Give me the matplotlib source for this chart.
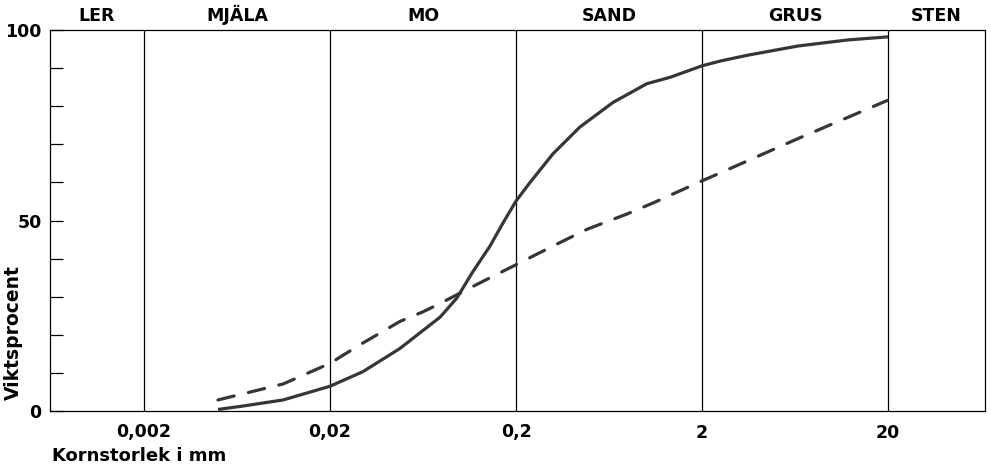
import numpy as np
import matplotlib
matplotlib.use("Agg")
import matplotlib.pyplot as plt

plt.rcParams['font.family'] = ['DejaVu Sans']

# kornstorlek (mm) och viktsprocent
solid_mm = [0.005, 0.0068, 0.0112, 0.02, 0.030, 0.0475, 0.078, 0.096, 0.117,
            0.145, 0.170, 0.2, 0.238, 0.316, 0.44, 0.665, 1.01, 1.35, 2.0,
            2.53, 3.53, 6.56, 12.2, 20.0]
solid_pct = [0.4, 1.3, 2.9, 6.5, 10.3, 16.4, 24.6, 29.6, 36.5, 43.3, 49.3,
             55.1, 60.0, 67.5, 74.5, 81.0, 85.9, 87.6, 90.6, 91.9, 93.4,
             95.8, 97.4, 98.2]

dashed_mm = [0.005, 0.0112, 0.02, 0.029, 0.0475, 0.063, 0.078, 0.113, 0.2,
             0.316, 0.482, 0.79, 1.09, 2.0, 3.53, 6.56, 12.2, 19.8]
dashed_pct = [2.9, 7.1, 12.5, 17.4, 23.5, 26.0, 28.2, 32.3, 38.4, 43.3, 47.7,
              51.7, 54.6, 60.4, 65.7, 71.5, 77.1, 81.5]

# fraktionsgränser och namn
bounds = [0.000625, 0.002, 0.02, 0.2, 2, 20, 66.4]
zone_names = ['LER', 'MJÄLA', 'MO', 'SAND', 'GRUS', 'STEN']
xtick_vals = [0.002, 0.02, 0.2, 2, 20]
xtick_labels = ['0,002', '0,02', '0,2', '2', '20']

fig = plt.figure(figsize=(9.91, 4.71), dpi=100)
ax = fig.add_axes([50/991, 60/471, 935/991, 381/471])

ax.set_xscale('log')
ax.set_xlim(bounds[0], bounds[-1])
ax.set_ylim(0, 100)

for b in bounds[1:-1]:
    ax.axvline(b, color='black', lw=0.9, zorder=1)

ink = '#363636'
ax.plot(solid_mm, solid_pct, color=ink, lw=2.3, solid_capstyle='butt',
        solid_joinstyle='round', zorder=3)
ax.plot(dashed_mm, dashed_pct, color=ink, lw=2.3, dashes=(5.2, 4.6),
        dash_capstyle='round', zorder=3)

for spine in ax.spines.values():
    spine.set_linewidth(0.9)

ax.set_xticks(xtick_vals)
ax.set_xticklabels(xtick_labels)
ax.xaxis.set_minor_locator(matplotlib.ticker.NullLocator())
ax.tick_params(axis='x', length=0, pad=9, labelsize=12.5)
for lbl in ax.get_xticklabels():
    lbl.set_fontweight('bold')

ax.set_yticks([0, 50, 100])
ax.set_yticks(np.arange(10, 100, 10), minor=True)
ax.tick_params(axis='y', which='both', direction='in', length=9, width=0.9,
               labelsize=12.5, pad=6)
for lbl in ax.get_yticklabels():
    lbl.set_fontweight('bold')

for name, lo, hi in zip(zone_names, bounds[:-1], bounds[1:]):
    ax.text(np.sqrt(lo * hi), 1.012, name, transform=ax.get_xaxis_transform(),
            ha='center', va='bottom', fontsize=12.5, fontweight='bold')

fig.text(52/991, 1 - 456/471, 'Kornstorlek i mm', ha='left', va='center',
         fontsize=13, fontweight='bold')
fig.text(13/991, 1 - 333/471, 'Viktsprocent', rotation=90, ha='center',
         va='center', fontsize=13.5, fontweight='bold')

fig.savefig('out.png', dpi=100)
